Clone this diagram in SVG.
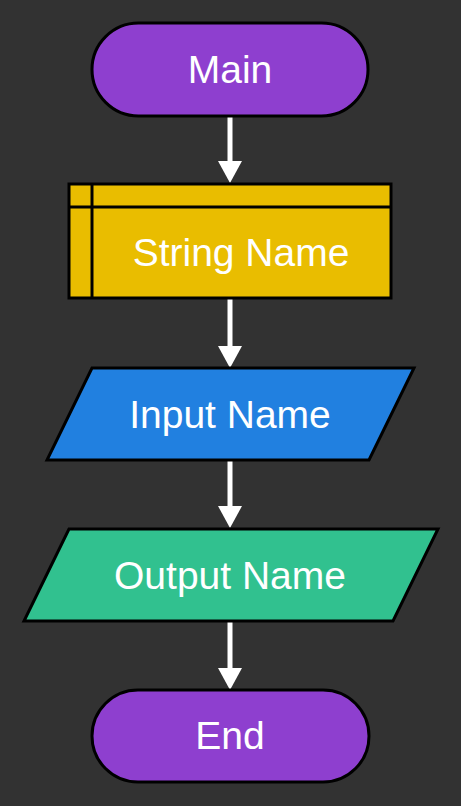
<svg xmlns="http://www.w3.org/2000/svg" width="461" height="806" viewBox="0 0 461 806">
<style>
.node{stroke:#000;stroke-width:3}
.lbl{font-family:"Liberation Sans",Arial,sans-serif;font-size:39px;fill:#fff;text-anchor:middle}
.conn{stroke:#fff;stroke-width:5;fill:none}
</style>
<defs>
<marker id="ah" markerUnits="userSpaceOnUse" markerWidth="22" markerHeight="24" refX="1" refY="12" orient="auto" viewBox="0 0 22 24">
<path d="M0,0 L22,12 L0,24 Z" fill="#fff"/>
</marker>
</defs>
<rect width="461" height="806" fill="#323232"/>
<g id="connectors">
<line class="conn" x1="230" y1="116" x2="230" y2="162" marker-end="url(#ah)"/>
<line class="conn" x1="230" y1="299" x2="230" y2="347" marker-end="url(#ah)"/>
<line class="conn" x1="230" y1="460" x2="230" y2="507" marker-end="url(#ah)"/>
<line class="conn" x1="230" y1="621" x2="230" y2="669" marker-end="url(#ah)"/>
</g>
<g id="main">
<rect class="node" x="92" y="23" width="276" height="93" rx="46.5" fill="#8E3FCF"/>
<text class="lbl" x="230" y="83">Main</text>
</g>
<g id="string-name">
<rect class="node" x="69" y="184" width="322" height="114" fill="#E9BD00"/>
<line class="node" x1="69" y1="207" x2="391" y2="207"/>
<line class="node" x1="92" y1="184" x2="92" y2="298"/>
<text class="lbl" x="241" y="266">String Name</text>
</g>
<g id="input-name">
<polygon class="node" points="92,368 414,368 369,460 47,460" fill="#2180E0"/>
<text class="lbl" x="230" y="428">Input Name</text>
</g>
<g id="output-name">
<polygon class="node" points="69,529 438,529 393,621 24,621" fill="#31C18F"/>
<text class="lbl" x="230" y="589">Output Name</text>
</g>
<g id="end">
<rect class="node" x="92" y="690" width="277" height="92" rx="46" fill="#8E3FCF"/>
<text class="lbl" x="230" y="749">End</text>
</g>
</svg>
